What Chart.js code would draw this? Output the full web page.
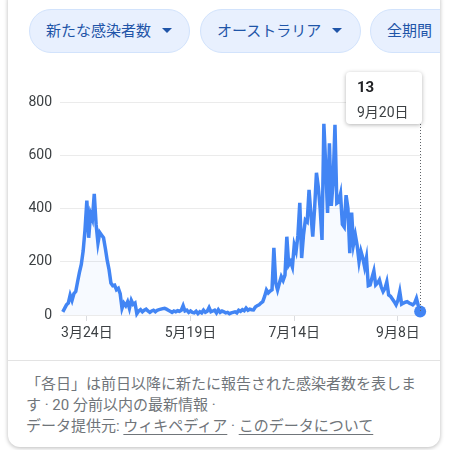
<!DOCTYPE html>
<html>
<head>
<meta charset="utf-8">
<script src="https://cdn.jsdelivr.net/npm/chart.js@4/dist/chart.umd.min.js"></script>
<style>
  body { margin: 0; width: 450px; height: 450px; background: #fff; overflow: hidden;
         font-family: Roboto, "Noto Sans CJK JP", sans-serif; }
  .card { position: absolute; left: 8px; top: -12px; width: 432px; height: 459px;
          border-radius: 12px; box-shadow: 0 1px 4px rgba(0,0,0,0.28); overflow: hidden; background: #fff; }
  .chip { position: absolute; top: 21px; height: 42px; border-radius: 22px; background: #e8f0fe;
          border: 1px solid #d2e3fc; color: #1f55a8; font-size: 15px; line-height: 42px;
          white-space: nowrap; padding-left: 16px; box-sizing: content-box; }
  .tri { display: inline-block; width: 0; height: 0; border-left: 5px solid transparent;
         border-right: 5px solid transparent; border-top: 5px solid #1f55a8; margin-left: 11px;
         vertical-align: middle; position: relative; top: -2px; }
  #wrap { position: absolute; left: 2px; top: 72px; width: 428px; height: 285px; }
  .tip { position: absolute; left: 338px; top: 84px; width: 76px; height: 52px; background: #fff;
         border-radius: 4px; box-shadow: 0 1px 4px rgba(0,0,0,0.3); color: #202124; }
  .tip b { position: absolute; left: 11px; top: 6px; font-size: 15px; }
  .tip span { position: absolute; left: 11px; top: 29px; font-size: 14px; color: #3c4043; }
  .divider { position: absolute; left: 0; top: 372px; width: 432px; height: 1px; background: #e3e3e3; }
  .foot { position: absolute; left: 18px; top: 386px; color: #70757a; font-size: 15px; line-height: 21px; white-space: nowrap; }
  .foot u { text-underline-offset: 3px; }
</style>
</head>
<body>
<div class="card">
  <div class="chip" style="left:21px;width:143px">新たな感染者数<span class="tri"></span></div>
  <div class="chip" style="left:192px;width:143px">オーストラリア<span class="tri"></span></div>
  <div class="chip" style="left:362px;width:100px">全期間</div>
  <div id="wrap"><canvas id="myChart"></canvas></div>
  <div class="tip"><b>13</b><span>9月20日</span></div>
  <div class="divider"></div>
  <div class="foot">「各日」は前日以降に新たに報告された感染者数を表しま<br>す · 20 分前以内の最新情報 ·<br>データ提供元: <u>ウィキペディア</u> · <u>このデータについて</u></div>
</div>
<script>
// daily new cases, Australia, 2020-03-11 .. 2020-09-20 (one value per day)
const values = [
  12, 25, 38, 45, 75, 55, 80, 88, 125, 160,
  190, 240, 320, 430, 290, 380, 360, 455, 340, 270,
  310, 300, 290, 250, 205, 170, 120, 110, 112, 95,
  100, 80, 25, 45, 35, 50, 25, 55, 40, 45,
  5, 15, 20, 12, 18, 22, 15, 10, 15, 18,
  12, 18, 20, 22, 24, 25, 22, 18, 14, 10,
  15, 12, 16, 14, 18, 35, 15, 18, 10, 15,
  10, 8, 14, 5, 12, 8, 18, 10, 14, 28,
  12, 15, 18, 8, 20, 10, 15, 12, 8, 10,
  5, 8, 10, 12, 8, 18, 14, 20, 16, 26,
  18, 22, 20, 19, 30, 35, 38, 45, 50, 70,
  94, 83, 90, 95, 252, 120, 94, 120, 144, 130,
  150, 294, 188, 200, 180, 263, 240, 300, 421, 214,
  300, 357, 350, 470, 380, 294, 400, 534, 480, 400,
  282, 718, 560, 383, 645, 410, 500, 714, 420, 425,
  455, 340, 330, 450, 400, 232, 385, 265, 300, 260,
  200, 240, 215, 180, 215, 110, 113, 140, 165, 113,
  120, 132, 105, 88, 100, 125, 75, 70, 60, 50,
  38, 55, 88, 41, 45, 48, 50, 45, 42, 38,
  45, 63, 35, 13
];
const tickDays = [13, 69, 125, 181];
const tickLabels = ["3月24日", "5月19日", "7月14日", "9月8日"];
const yTicks = [0, 200, 400, 600, 800];

const lastIdx = values.length - 1;
const points = values.map((v, i) => ({ x: i, y: v }));

const guideLine = {
  id: "guideLine",
  afterDatasetsDraw(chart) {
    const pt = chart.getDatasetMeta(0).data[lastIdx];
    const c = chart.ctx;
    c.save();
    c.strokeStyle = "#5f6368";
    c.lineWidth = 1;
    c.setLineDash([1, 2]);
    c.beginPath();
    c.moveTo(Math.round(pt.x) + 0.5, 64);
    c.lineTo(Math.round(pt.x) + 0.5, pt.y);
    c.stroke();
    c.restore();
  }
};

new Chart("myChart", {
  type: "line",
  data: {
    datasets: [{
      data: points,
      borderColor: "#4285f4",
      borderWidth: 3.5,
      backgroundColor: "rgba(66,133,244,0.045)",
      fill: "origin",
      tension: 0,
      clip: false,
      pointRadius: ctx => ctx.dataIndex === lastIdx ? 6 : 0,
      pointBackgroundColor: "#4285f4",
      pointBorderWidth: 0
    }]
  },
  options: {
    responsive: true,
    maintainAspectRatio: false,
    animation: false,
    events: [],
    layout: { padding: { top: 42, right: 16, left: 0, bottom: 0 }, autoPadding: false },
    plugins: { legend: { display: false }, tooltip: { enabled: false } },
    scales: {
      x: {
        type: "linear",
        min: -1.5,
        max: 194,
        afterBuildTicks: s => { s.ticks = tickDays.map(v => ({ value: v })); },
        afterFit: s => { s.height = 30; },
        ticks: {
          autoSkip: false,
          maxRotation: 0,
          padding: 4,
          color: "#3c4043",
          font: { family: "Roboto, 'Noto Sans CJK JP'", size: 14 },
          callback: v => tickLabels[tickDays.indexOf(v)]
        },
        grid: { drawOnChartArea: false, color: "#dadce0", tickLength: 6 },
        border: { color: "#ebebeb" }
      },
      y: {
        min: 0,
        max: 800,
        afterBuildTicks: s => { s.ticks = yTicks.map(v => ({ value: v })); },
        afterFit: s => { s.width = 50; },
        ticks: {
          padding: 8,
          color: "#3c4043",
          font: { family: "Roboto", size: 14 }
        },
        grid: { color: "#ebebeb", drawTicks: false },
        border: { display: false }
      }
    }
  },
  plugins: [guideLine]
});
</script>
</body>
</html>
